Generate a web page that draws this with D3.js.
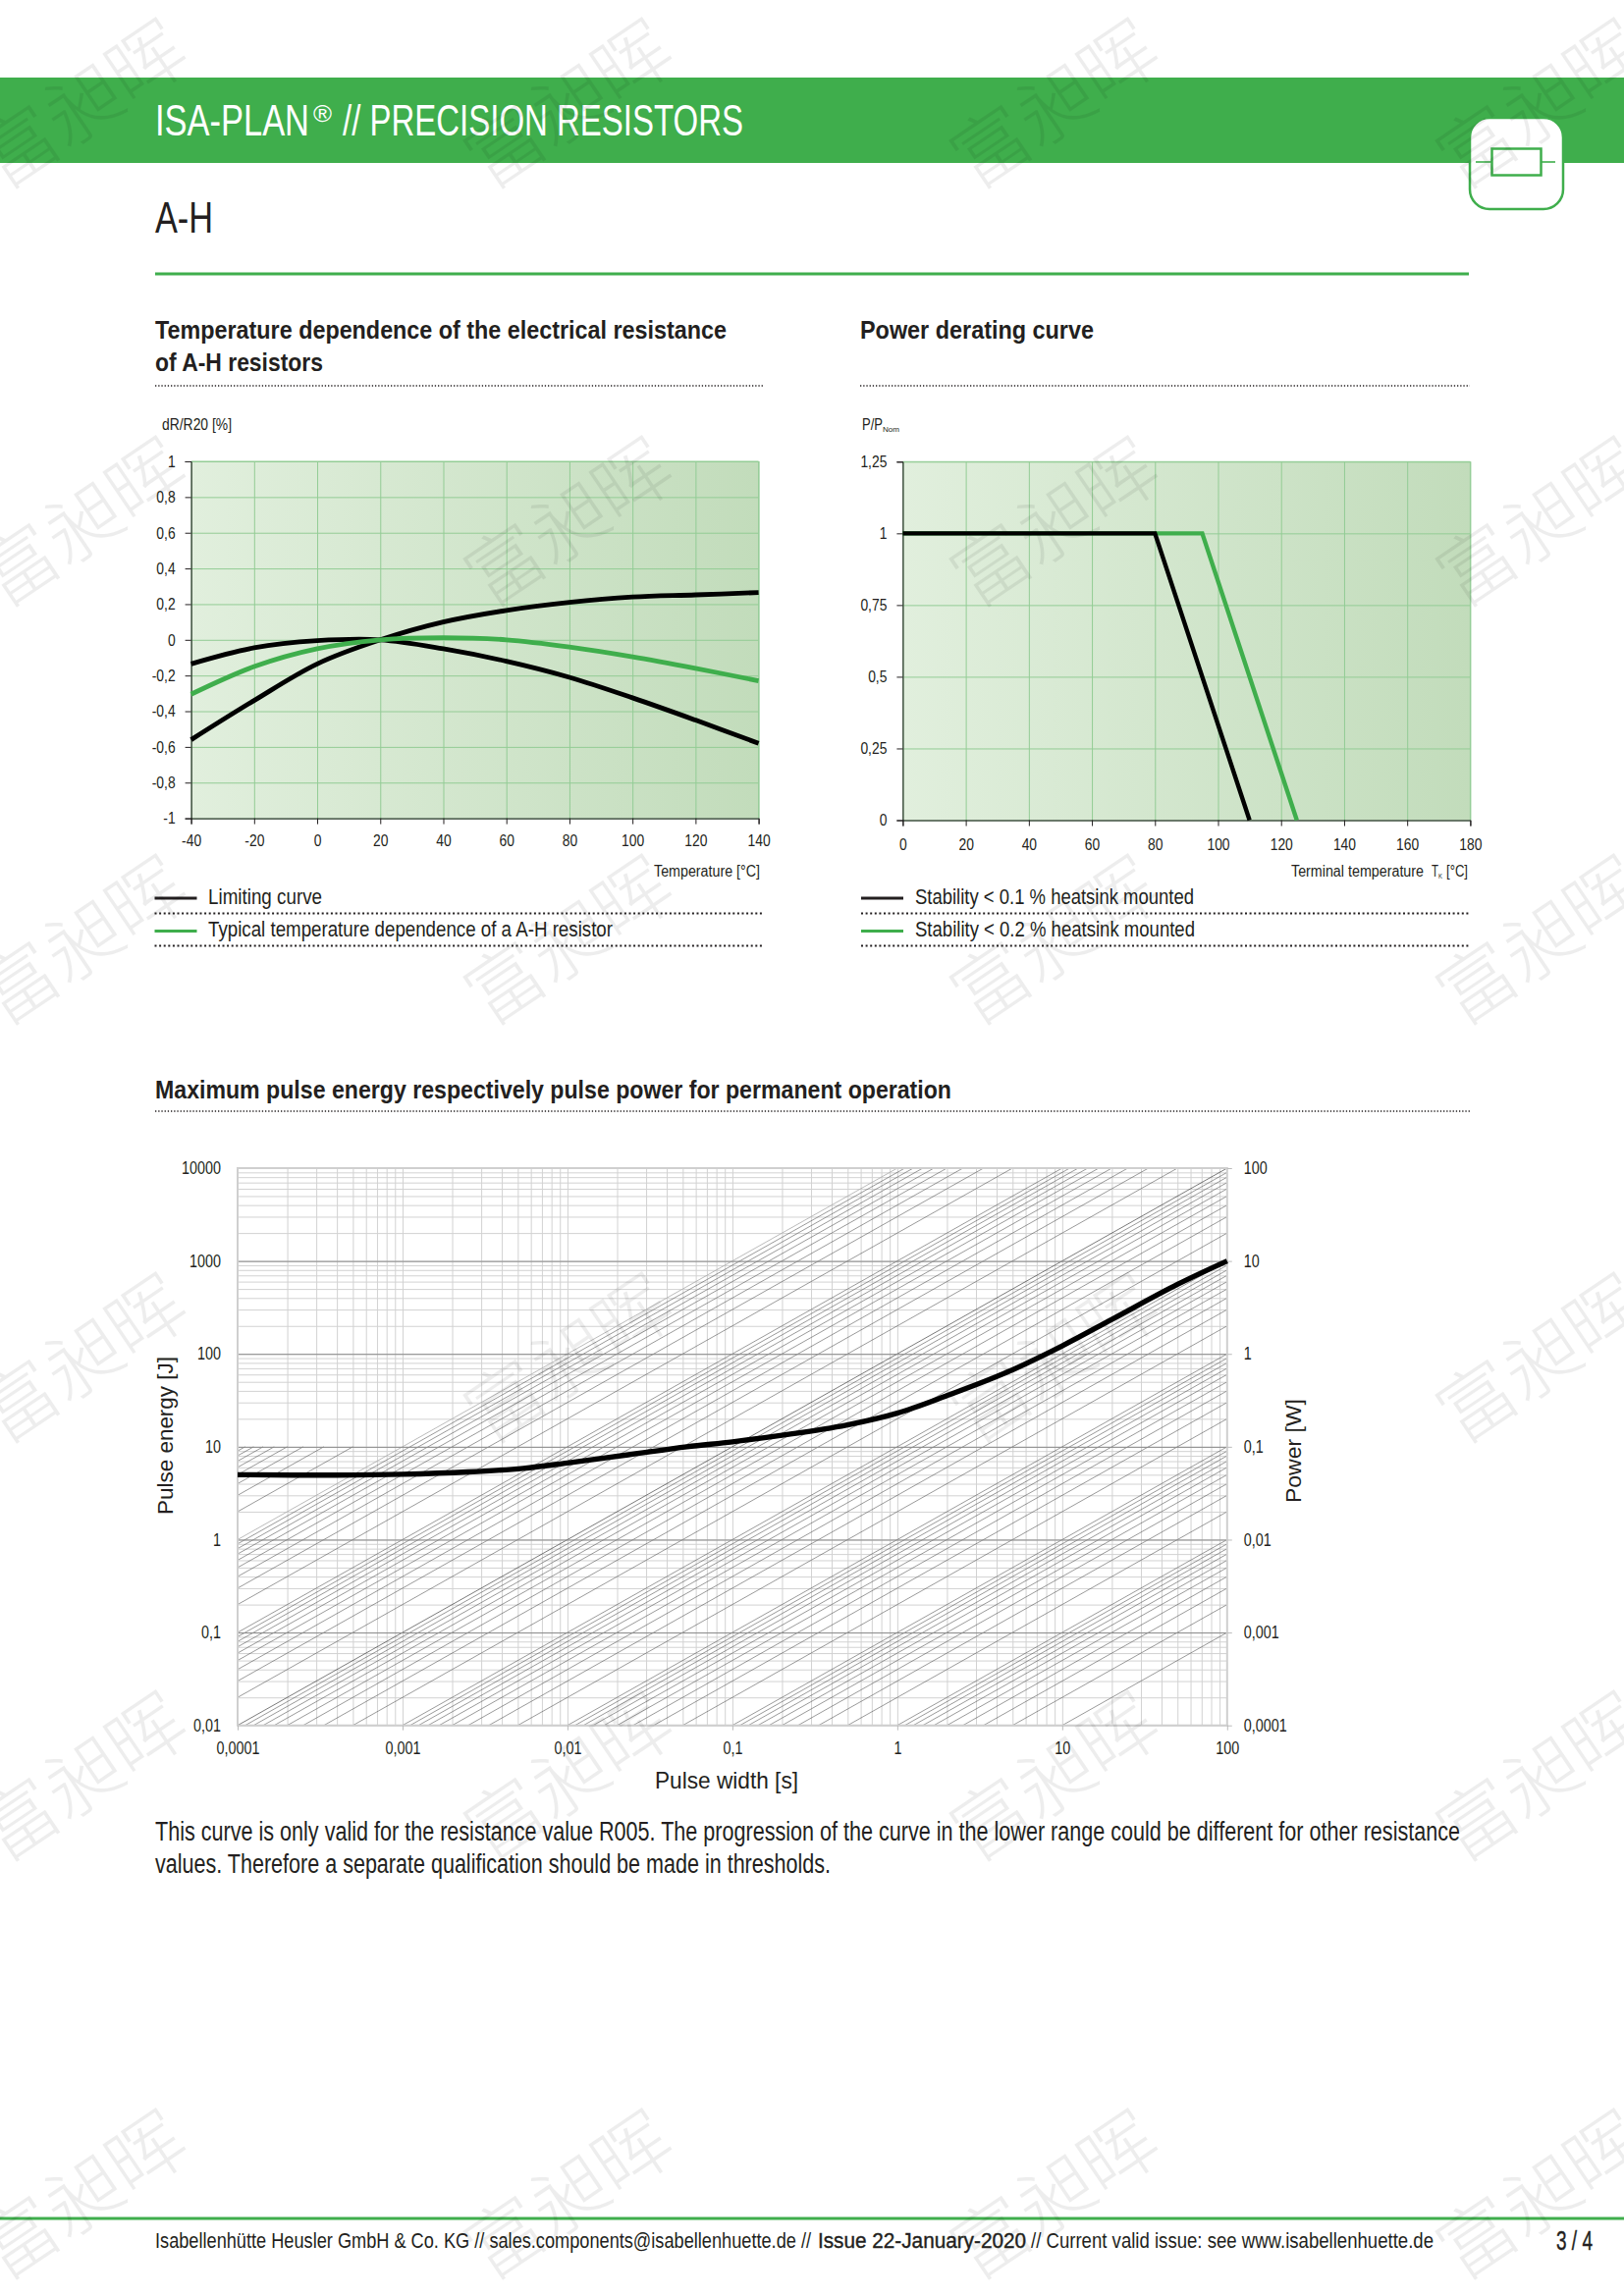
<!DOCTYPE html>
<html>
<head>
<meta charset="utf-8">
<style>
  html, body { margin: 0; padding: 0; background: #fff; }
  text { font-family: "Liberation Sans Narrow", "Liberation Sans", Roboto, sans-serif; fill: #231f20; }
  .canvas svg { display: block; }
</style>
</head>
<body>
<div class="canvas"></div>
<script src="https://cdn.jsdelivr.net/npm/d3@7"></script>
<script>
// temperature dependence chart
const tempC = [-40, -20, 0, 20, 40, 60, 80, 100, 120, 140];
const limitLow = [-0.135, -0.045, -0.005, 0, -0.05, -0.12, -0.21, -0.325, -0.45, -0.58];
const limitHigh = [-0.56, -0.34, -0.135, 0, 0.1, 0.165, 0.21, 0.24, 0.252, 0.265];
const typical = [-0.305, -0.15, -0.05, 0, 0.012, 0, -0.04, -0.095, -0.16, -0.23];
const drTicks = [-1, -0.8, -0.6, -0.4, -0.2, 0, 0.2, 0.4, 0.6, 0.8, 1];

// derating chart
const deratingTicksX = [0, 20, 40, 60, 80, 100, 120, 140, 160, 180];
const deratingTicksY = [0, 0.25, 0.5, 0.75, 1, 1.25];
const stability01T = [0, 80, 110];
const stability01P = [1, 1, 0];
const stability02T = [0, 95, 125];
const stability02P = [1, 1, 0];

// pulse chart
const widthDecades = [0.0001, 0.001, 0.01, 0.1, 1, 10, 100];
const energyDecades = [0.01, 0.1, 1, 10, 100, 1000, 10000];
const powerDecades = [0.0001, 0.001, 0.01, 0.1, 1, 10, 100];
const mantissas = [1, 2, 3, 4, 5, 6, 7, 8, 9];
const constantPowerDecades = [0.001, 0.01, 0.1, 1, 10, 100, 1000];
const hatchPowers = [20000, 30000, 40000, 50000, 60000, 70000, 80000, 90000];
const pulseT = [0.0001, 0.0004, 0.001, 0.0025, 0.0054, 0.01, 0.0234, 0.053, 0.1, 0.2, 0.49, 1, 2, 4.68, 10, 20, 50, 100];
const pulseE = [5, 4.95, 5.05, 5.35, 5.85, 6.7, 8.2, 10, 11.3, 13.3, 17.1, 23, 35.5, 64, 122, 235, 560, 1000];

const GREEN = '#3fae4c';
const comma = d => String(d).replace('.', ',');

const svg = d3.select('.canvas')
  .append('svg')
  .attr('width', 1654)
  .attr('height', 2339);

const defs = svg.append('defs');
const grad = defs.append('linearGradient').attr('id', 'panel');
grad.append('stop').attr('offset', '0%').attr('stop-color', '#e1efdd');
grad.append('stop').attr('offset', '100%').attr('stop-color', '#c2dcbb');

// text with its width taken from the page
function label(parent, str, x, y, size, width, opts = {}) {
  const t = parent.append('text')
    .attr('x', x)
    .attr('y', y)
    .attr('font-size', size)
    .attr('text-anchor', opts.anchor || 'start')
    .attr('font-weight', opts.weight || 'normal')
    .text(str);
  if (width) t.attr('textLength', width).attr('lengthAdjust', 'spacingAndGlyphs');
  if (opts.fill) t.style('fill', opts.fill);
  if (opts.family) t.style('font-family', opts.family);
  if (opts.transform) t.attr('transform', opts.transform);
  if (opts.medium) t.style('stroke', '#231f20').style('stroke-width', 0.4);
  return t;
}

// the page uses a condensed face, so tick labels are squeezed
function squeeze(sel, k) {
  sel.each(function() {
    d3.select(this)
      .attr('textLength', this.getComputedTextLength() * k)
      .attr('lengthAdjust', 'spacingAndGlyphs');
  });
}

function dotted(x1, x2, y, w) {
  svg.append('line')
    .attr('x1', x1).attr('x2', x2).attr('y1', y).attr('y2', y)
    .attr('stroke', '#231f20')
    .attr('stroke-width', w)
    .attr('stroke-dasharray', `${w} ${w + 0.6}`);
}

// page furniture
svg.append('rect').attr('x', 0).attr('y', 79).attr('width', 1654).attr('height', 87).attr('fill', GREEN);
label(svg, 'ISA-PLAN', 158, 138, 45, 157, {fill: '#fff'});
label(svg, '®', 319, 124, 24, 19, {fill: '#fff'});
label(svg, '// PRECISION RESISTORS', 349, 138, 45, 408, {fill: '#fff'});
label(svg, 'A-H', 158, 237, 45, 59);
svg.append('rect').attr('x', 158).attr('y', 277.5).attr('width', 1338).attr('height', 3).attr('fill', GREEN);

const icon = svg.append('g');
icon.append('rect').attr('x', 1497).attr('y', 120).attr('width', 95).attr('height', 93).attr('rx', 20)
  .attr('fill', '#fff').attr('stroke', GREEN).attr('stroke-width', 2.5);
icon.append('rect').attr('x', 1519.5).attr('y', 151.5).attr('width', 50).attr('height', 27)
  .attr('fill', 'none').attr('stroke', GREEN).attr('stroke-width', 2.5);
icon.append('line').attr('x1', 1503).attr('x2', 1519).attr('y1', 165).attr('y2', 165).attr('stroke', GREEN).attr('stroke-width', 1.6);
icon.append('line').attr('x1', 1570).attr('x2', 1584).attr('y1', 165).attr('y2', 165).attr('stroke', GREEN).attr('stroke-width', 1.6);

label(svg, 'Temperature dependence of the electrical resistance', 158, 345, 25, 582, {weight: 'bold'});
label(svg, 'of A-H resistors', 158, 378, 25, 171, {weight: 'bold'});
dotted(158, 778, 393, 1.3);
label(svg, 'Power derating curve', 876, 345, 25, 238, {weight: 'bold'});
dotted(876, 1497, 393, 1.3);

// small green panel shared by the two upper charts
function panel(left, right, top, bottom, x, y, xTicks, yTicks, xPad) {
  const width = right - left, height = bottom - top;
  const g = svg.append('g').attr('transform', `translate(${left},${top})`);
  g.append('rect').attr('width', width).attr('height', height).attr('fill', 'url(#panel)');

  const gridX = g.append('g').call(d3.axisBottom(x).tickValues(xTicks).tickSize(height).tickFormat(''));
  const gridY = g.append('g').call(d3.axisLeft(y).tickValues(yTicks).tickSize(-width).tickFormat(''));
  [gridX, gridY].forEach(a => {
    a.select('.domain').remove();
    a.selectAll('line').attr('stroke', '#93cc95').attr('stroke-width', 1);
  });
  g.append('path').attr('d', `M0,0H${width}V${height}`).attr('fill', 'none').attr('stroke', '#93cc95');

  const xAxis = g.append('g').attr('transform', `translate(0,${height})`)
    .call(d3.axisBottom(x).tickValues(xTicks).tickSize(6).tickPadding(xPad).tickFormat(comma));
  const yAxis = g.append('g')
    .call(d3.axisLeft(y).tickValues(yTicks).tickSize(6).tickPadding(10).tickFormat(comma));
  [xAxis, yAxis].forEach(a => {
    a.selectAll('text').attr('font-size', 16.5).style('font-family', '"Liberation Sans", Roboto, sans-serif');
    squeeze(a.selectAll('text'), 0.84);
    a.selectAll('line').attr('stroke', '#231f20');
    a.select('.domain').attr('stroke', '#111');
  });
  return g;
}

// chart 1
const x1 = d3.scaleLinear().domain([-40, 140]).range([0, 578]);
const y1 = d3.scaleLinear().domain([-1, 1]).range([363.6, 0]);
const g1 = panel(194.6, 772.6, 470, 833.6, x1, y1, tempC, drTicks, 11);
const line1 = d3.line().x(d => x1(d[0])).y(d => y1(d[1])).curve(d3.curveCatmullRom.alpha(0.5));
[[limitLow, '#000'], [limitHigh, '#000'], [typical, GREEN]].forEach(([vals, color]) => {
  g1.append('path')
    .attr('d', line1(tempC.map((t, i) => [t, vals[i]])))
    .attr('fill', 'none')
    .attr('stroke', color)
    .attr('stroke-width', 4.8);
});
label(svg, 'dR/R20 [%]', 165, 437.5, 16, 71);
label(svg, 'Temperature [°C]', 774, 893, 16, 108, {anchor: 'end'});

// chart 2
const x2 = d3.scaleLinear().domain([0, 180]).range([0, 578]);
const y2 = d3.scaleLinear().domain([0, 1.25]).range([365.2, 0]);
const g2 = panel(919.4, 1497.4, 470.3, 835.5, x2, y2, deratingTicksX, deratingTicksY, 13);
const line2 = d3.line().x(d => x2(d[0])).y(d => y2(d[1]));
[[stability02T, stability02P, GREEN], [stability01T, stability01P, '#000']].forEach(([ts, ps, color]) => {
  g2.append('path')
    .attr('d', line2(ts.map((t, i) => [t, ps[i]])))
    .attr('fill', 'none')
    .attr('stroke', color)
    .attr('stroke-width', 4.4);
});
label(svg, 'P/P', 878, 437.5, 16, 21);
label(svg, 'Nom', 899, 439.5, 8, 17);
label(svg, 'Terminal temperature', 1315, 893, 16, 135);
label(svg, 'T', 1458, 893, 16, 7);
label(svg, 'K', 1465, 895, 8, 4);
label(svg, '[°C]', 1473, 893, 16, 22);

// legends under the two upper charts
function legendRow(x0, xEnd, textX, ly, baseline, color, str, width, dotY) {
  svg.append('line').attr('x1', x0).attr('x2', x0 + 43).attr('y1', ly).attr('y2', ly)
    .attr('stroke', color).attr('stroke-width', 3);
  label(svg, str, textX, baseline, 22, width);
  dotted(x0, xEnd, dotY, 2);
}
legendRow(157.5, 778, 212, 915, 921, '#231f20', 'Limiting curve', 116, 930.5);
legendRow(157.5, 778, 212, 948.5, 954, GREEN, 'Typical temperature dependence of a A-H resistor', 412, 963.5);
legendRow(877, 1497, 932, 915, 921, '#231f20', 'Stability < 0.1 % heatsink mounted', 284, 930.5);
legendRow(877, 1497, 932, 948.5, 954, GREEN, 'Stability < 0.2 % heatsink mounted', 285, 963.5);

// chart 3
label(svg, 'Maximum pulse energy respectively pulse power for permanent operation', 158, 1118.5, 25, 811, {weight: 'bold'});
dotted(158, 1497, 1132, 1.3);

const w3 = 1249.8 - 242, h3 = 1757.7 - 1190;
const g3 = svg.append('g').attr('transform', 'translate(242,1190)');
const x3 = d3.scaleLog().domain([0.0001, 100]).range([0, w3]);
const y3 = d3.scaleLog().domain([0.01, 10000]).range([h3, 0]);
const yPower = d3.scaleLog().domain([0.0001, 100]).range([h3, 0]);

const allMinor = (decades) => decades.slice(0, -1).flatMap(d => mantissas.map(m => d * m));
const vGrid = g3.append('g').call(d3.axisBottom(x3).tickValues(allMinor(widthDecades)).tickSize(h3).tickFormat(''));
const hGrid = g3.append('g').call(d3.axisLeft(y3).tickValues(allMinor(energyDecades)).tickSize(-w3).tickFormat(''));
[vGrid, hGrid].forEach(a => {
  a.select('.domain').remove();
  a.selectAll('line').attr('stroke', '#d2d2d2').attr('stroke-width', 1);
});

// constant power lines, E = P * t, stopped at the frame (hatch stops at 10 J)
const t0 = 0.0001, t1 = 100;
function powerLine(P, eMax, stroke, sw) {
  const from = Math.max(t0, 0.01 / P), to = Math.min(t1, eMax / P);
  g3.append('line')
    .attr('x1', x3(from)).attr('y1', y3(P * from))
    .attr('x2', x3(to)).attr('y2', y3(P * to))
    .attr('stroke', stroke)
    .attr('stroke-width', sw);
}
constantPowerDecades.forEach(d => {
  mantissas.forEach(m => powerLine(d * m, 10000, (d === 100 && m === 1) ? '#222' : '#555', 0.6));
});
powerLine(10000, 10000, '#aaa', 0.8);
hatchPowers.forEach(P => powerLine(P, 10, '#555', 0.6));

// decade lines on top of the hatch
const hMajor = g3.append('g').call(d3.axisLeft(y3).tickValues(energyDecades.slice(1, -1)).tickSize(-w3).tickFormat(''));
hMajor.select('.domain').remove();
hMajor.selectAll('line').attr('stroke', '#8a8a8a').attr('stroke-width', 1);
g3.append('rect').attr('width', w3).attr('height', h3)
  .attr('fill', 'none').attr('stroke', '#cfcfcf').attr('stroke-width', 2);

const xAxis3 = g3.append('g').attr('transform', `translate(0,${h3})`)
  .call(d3.axisBottom(x3).tickValues(widthDecades).tickSize(5).tickPadding(12).tickFormat(comma));
const yAxis3 = g3.append('g')
  .call(d3.axisLeft(y3).tickValues(energyDecades).tickSize(0).tickPadding(17).tickFormat(comma));
const yAxisR = g3.append('g').attr('transform', `translate(${w3},0)`)
  .call(d3.axisRight(yPower).tickValues(powerDecades).tickSize(5).tickPadding(12).tickFormat(comma));
[xAxis3, yAxis3, yAxisR].forEach(a => {
  a.select('.domain').remove();
  a.selectAll('line').attr('stroke', '#bbb');
  a.selectAll('text').attr('font-size', 17.5).style('font-family', '"Liberation Sans", Roboto, sans-serif');
  squeeze(a.selectAll('text'), 0.82);
});

g3.append('path')
  .attr('d', d3.line().x(t => x3(t)).y((t, i) => y3(pulseE[i])).curve(d3.curveCatmullRom.alpha(0.5))(pulseT))
  .attr('fill', 'none')
  .attr('stroke', '#000')
  .attr('stroke-width', 5.4);

label(svg, 'Pulse width [s]', 667, 1822, 24, 146);
label(svg, 'Pulse energy [J]', 0, 0, 22, 161, {family: '"Liberation Sans", sans-serif', transform: 'translate(176,1543) rotate(-90)'});
label(svg, 'Power [W]', 0, 0, 22, 106, {family: '"Liberation Sans", sans-serif', transform: 'translate(1325,1531) rotate(-90)'});

label(svg, 'This curve is only valid for the resistance value R005. The progression of the curve in the lower range could be different for other resistance', 158, 1875, 27, 1329);
label(svg, 'values. Therefore a separate qualification should be made in thresholds.', 158, 1908, 27, 688);

// footer
svg.append('rect').attr('x', 0).attr('y', 2258.5).attr('width', 1654).attr('height', 3).attr('fill', GREEN);
label(svg, 'Isabellenhütte Heusler GmbH & Co. KG // sales.components@isabellenhuette.de //', 158, 2290, 22, 668);
label(svg, 'Issue 22-January-2020', 833, 2290, 22, 212, {medium: true});
label(svg, '// Current valid issue: see www.isabellenhuette.de', 1050, 2290, 22, 410);
label(svg, '3 / 4', 1585, 2292, 27, 37, {medium: true});

// watermark over everything
const markCols = [85, 580, 1075, 1570];
const markRows = [107, 533, 959, 1385, 1811, 2237];
const marks = svg.append('g');
markRows.forEach(ry => markCols.forEach(cx => {
  label(marks, '富昶晖', 0, 0, 78, null, {
    anchor: 'middle',
    fill: '#000',
    weight: 300,
    family: '"Noto Sans CJK SC", sans-serif',
    transform: `translate(${cx},${ry}) rotate(-34)`
  }).attr('dy', '0.35em').style('opacity', 0.065);
}));
</script>
</body>
</html>
